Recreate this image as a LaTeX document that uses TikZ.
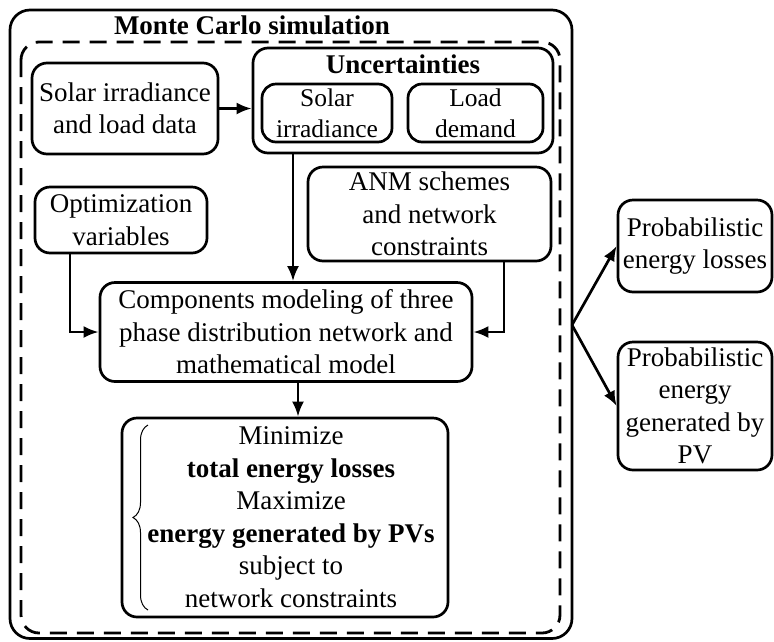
\documentclass[tikz,border=0pt]{standalone}
\usepackage{fontspec}
\setmainfont{Liberation Serif}
\usetikzlibrary{arrows.meta,decorations.pathreplacing}
\newcommand{\mainfs}{\fontsize{27}{32.5}\selectfont}
\newcommand{\subfs}{\fontsize{25.5}{31}\selectfont}
\tikzset{
  box/.style={draw, line width=2.7pt, rounded corners=15pt, align=center, inner sep=0pt, font=\mainfs},
  subbox/.style={box, rounded corners=14pt, font=\subfs},
  lbl/.style={align=center, inner sep=0pt, font=\mainfs},
  arr/.style={line width=2.7pt, -{Latex[length=15pt,width=12pt]}},
  mcdash/.style={line width=2.8pt, dash pattern=on 17pt off 10pt, rounded corners=18pt},
  mcsolid/.style={line width=2.7pt, rounded corners=20pt}
}
\begin{document}
\begin{tikzpicture}[x=1pt,y=1pt]
\useasboundingbox (0,0) rectangle (774,-641);
% outer frames
\draw[mcsolid] (10,-10) rectangle (572,-638.5);
\draw[mcdash] (21,-42) rectangle (560,-633);
\node[lbl, font=\mainfs\bfseries] (title) at (252,-25) {Monte Carlo simulation};
% boxes
\node[box, minimum width=186, minimum height=91] (sol) at (125,-108.5) {Solar irradiance\\and load data};
\node[box, minimum width=300, minimum height=105] (unc) at (403,-100.5) {};
\node[lbl, font=\mainfs\bfseries] (unct) at (403,-64) {Uncertainties};
\node[subbox, minimum width=130, minimum height=58] (usol) at (327,-113) {Solar\\irradiance};
\node[subbox, minimum width=135, minimum height=58] (uload) at (475.5,-113) {Load\\demand};
\node[box, minimum width=172, minimum height=66] (opt) at (121,-220) {Optimization\\variables};
\node[box, minimum width=243, minimum height=94] (anm) at (429.5,-214) {ANM schemes\\and network\\constraints};
\node[box, minimum width=372, minimum height=99] (comp) at (286,-332) {Components modeling of three\\phase distribution network and\\mathematical model};
\node[box, minimum width=326, minimum height=199] (obj) at (285,-517.5) {};
\node[lbl] (objt) at (291,-517) {Minimize\\\textbf{total energy losses}\\Maximize\\\textbf{energy generated by PVs}\\subject to\\network constraints};
\node[box, minimum width=154, minimum height=92] (pl) at (695,-246) {Probabilistic\\energy losses};
\node[box, minimum width=154, minimum height=128] (pg) at (695,-406) {Probabilistic\\energy\\generated by\\PV};
% helper coordinates
\coordinate (ux) at (293,0);
\coordinate (ox) at (70,0);
\coordinate (ax) at (504,0);
\coordinate (bx) at (298,0);
\coordinate (split) at (572,-325);
\coordinate (bt) at (148,-425);
\coordinate (bb) at (148,-610);
% connectors
\draw[arr] (sol.east) -- (sol.east -| unc.west);
\draw[arr] (unc.south -| ux) -- (comp.north -| ux);
\draw[arr] (opt.south -| ox) |- (comp.west);
\draw[arr] (anm.south -| ax) |- (comp.east);
\draw[arr] (comp.south -| bx) -- (obj.north -| bx);
\draw[arr] (split) -- (pl.west);
\draw[arr] (split) -- (pg.west);
% brace
\draw[line width=1pt, decorate, decoration={brace, amplitude=15pt}] (bb) -- (bt);
\end{tikzpicture}
\end{document}
